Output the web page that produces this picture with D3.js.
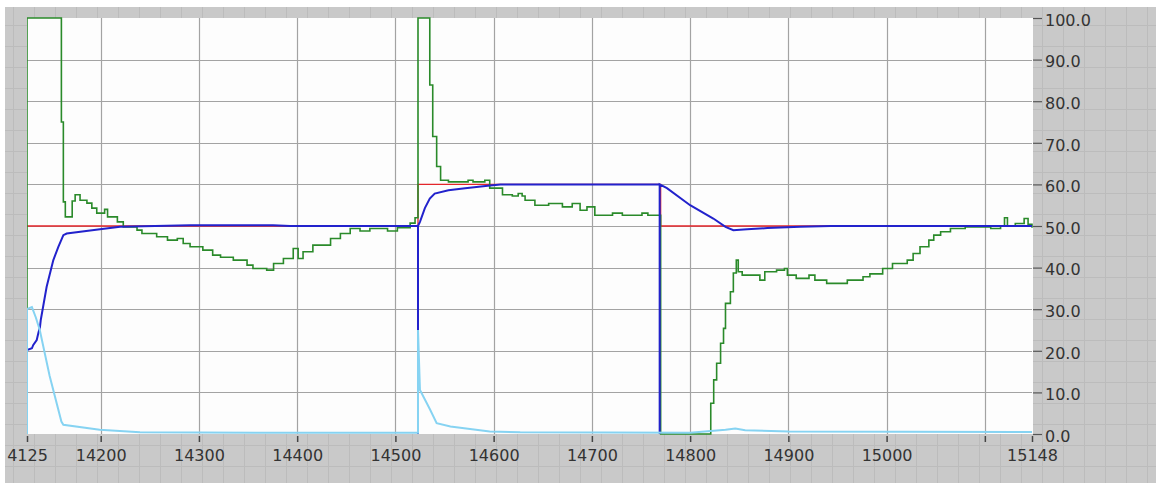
<!DOCTYPE html>
<html>
<head>
<meta charset="utf-8">
<script src="https://cdn.jsdelivr.net/npm/d3@7"></script>
<style>
  body { margin: 0; background: #ffffff; }
  svg { display: block; }
  text { font-family: "DejaVu Sans", Verdana, sans-serif; }
</style>
</head>
<body>
<svg id="chart" width="1156" height="483"></svg>
<script>
// ---- axis ticks ----
const xTickValues = [14125, 14200, 14300, 14400, 14500, 14600, 14700, 14800, 14900, 15000, 15100, 15148];
const xTickLabels = ["4125", "14200", "14300", "14400", "14500", "14600", "14700", "14800", "14900", "15000", "", "15148"];
const yTickValues = [0, 10, 20, 30, 40, 50, 60, 70, 80, 90, 100];

// ---- setpoint (stepped) ----
const spTime  = [14125, 14523, 14770, 15148];
const spValue = [50,    60,    50,    50];

// ---- controller output (stepped) ----
const outTime = [14125, 14125, 14160, 14162, 14164, 14171, 14174, 14179, 14186, 14191, 14196, 14204, 14207, 14217,
  14223, 14237, 14242, 14257, 14268, 14278, 14284, 14291, 14304, 14314, 14322, 14335, 14349, 14355, 14369, 14376,
  14386, 14396, 14401, 14406, 14416, 14434, 14444, 14454, 14464, 14474, 14492, 14502, 14515, 14520,
  14523, 14535, 14538, 14542, 14546, 14554, 14574, 14579, 14591, 14596, 14609, 14619, 14625, 14629, 14632, 14642,
  14656, 14670, 14680, 14688, 14695, 14703, 14721, 14731, 14751, 14757, 14770,
  14819, 14821, 14824, 14827, 14831, 14834, 14836, 14841, 14844, 14847, 14849, 14853, 14871, 14876, 14888, 14896,
  14899, 14908, 14921, 14927, 14939, 14960, 14976, 14983, 14996, 15006, 15021, 15027, 15034, 15043, 15048, 15055,
  15065, 15080, 15106, 15116, 15120, 15123, 15131, 15140, 15144, 15148];
const outValue = [0, 100, 75, 55.8, 52.2, 56, 57.5, 56.2, 55.5, 54.3, 53.1, 54, 52.2, 51,
  49.8, 49, 48.2, 47.4, 46.6, 47, 45.8, 45, 44.2, 43, 42.5, 41.8, 40.6, 39.8, 39.4, 41,
  42.2, 44.6, 42.2, 43.8, 45.4, 47, 48.2, 49.4, 48.8, 49.4, 48.8, 49.6, 50.7, 52,
  100, 83.9, 71.5, 64.3, 61, 60.6, 61, 60.6, 61, 59.1, 57.5, 57.2, 57.8, 57.2, 56.2, 55,
  55.4, 54.6, 55.4, 53.8, 54.6, 52.6, 53.1, 52.6, 53.1, 52.6, 0,
  0, 7.4, 13, 17, 21.8, 25.4, 31.4, 34.2, 38.7, 41.8, 39, 38.2, 37, 39, 39.4, 39.8,
  38.2, 37.4, 38.2, 37, 36.2, 37, 37.8, 38.5, 39.8, 41, 41.8, 43.4, 45, 46.6, 47.8, 48.6,
  49.4, 49.8, 49.4, 50, 52, 50, 50.6, 51.8, 50.4, 49.6];

// ---- process value ----
const pvTime = [14125, 14125, 14130, 14131.4, 14134.9, 14136.5, 14138.2, 14139, 14145, 14151.8, 14156.9, 14162,
  14165.4, 14199.3, 14219.7, 14291, 14375.5, 14392.8, 14523, 14523, 14523,
  14525, 14530, 14535, 14540, 14554, 14571, 14594, 14607, 14769, 14769, 14769,
  14776.4, 14800, 14823.6, 14836, 14844, 14858, 14878.6, 14912, 14943, 15148];
const pvValue = [0, 20.2, 20.6, 21.4, 22.6, 24.2, 25.7, 27.4, 35.4, 41.8, 45, 47.8,
  48.2, 49.2, 49.8, 50.2, 50.2, 50, 50, 0, 50,
  51, 54.3, 56.6, 57.8, 58.6, 59.1, 59.7, 60, 60, 0, 60,
  59.1, 55, 51.8, 49.8, 49, 49.2, 49.5, 49.8, 50, 50];

// ---- error magnitude ----
const errTime = [14125, 14125, 14130, 14134, 14138, 14148, 14160, 14162, 14199, 14240, 14400, 14523, 14523,
  14525, 14535, 14542, 14556, 14596, 14627, 14800, 14836, 14846, 14856, 14900, 15148];
const errValue = [0, 30, 30.5, 28, 25, 14, 3, 2.2, 1, 0.4, 0.3, 0.3, 25,
  10.6, 6, 2.6, 1.8, 0.6, 0.4, 0.3, 1, 1.3, 0.9, 0.6, 0.5];

const W = 1156, H = 483;
const plot = { left: 27, right: 1032, top: 18, bottom: 434 };

const svg = d3.select("#chart");

// panel background with its faint grid
const defs = svg.append("defs");
const pat = defs.append("pattern")
  .attr("id", "panelGrid").attr("patternUnits", "userSpaceOnUse")
  .attr("width", 21).attr("height", 21).attr("x", 13).attr("y", 4);
pat.append("rect").attr("width", 21).attr("height", 21).attr("fill", "#c9c9c9");
pat.append("path").attr("d", "M0,0.5H21M0.5,0V21").attr("stroke", "#bcbcbc").attr("stroke-width", 1);

svg.append("rect").attr("x", 0).attr("y", 0).attr("width", W).attr("height", H).attr("fill", "#ffffff");
svg.append("rect").attr("x", 5).attr("y", 7).attr("width", W - 5).attr("height", H - 7).attr("fill", "url(#panelGrid)");

defs.append("clipPath").attr("id", "plotClip")
  .append("rect").attr("x", plot.left).attr("y", plot.top - 1)
  .attr("width", plot.right - plot.left + 1).attr("height", plot.bottom - plot.top + 2);

// plotting area
svg.append("rect")
  .attr("x", plot.left).attr("y", plot.top)
  .attr("width", plot.right - plot.left + 1).attr("height", plot.bottom - plot.top)
  .attr("fill", "#fdfdfd");

const x = d3.scaleLinear().domain([14125, 15148]).range([plot.left, plot.right]);
const y = d3.scaleLinear().domain([0, 100]).range([plot.bottom, plot.top]);

// grid lines
const grid = svg.append("g").attr("stroke", "#a3a3a3").attr("stroke-width", 1.2);
grid.selectAll("line.v").data(xTickValues.filter(v => v > 14125 && v < 15148)).join("line")
  .attr("class", "v")
  .attr("x1", d => Math.round(x(d)) + 0.5).attr("x2", d => Math.round(x(d)) + 0.5)
  .attr("y1", plot.top).attr("y2", plot.bottom);
grid.selectAll("line.h").data(yTickValues.filter(v => v > 0 && v < 100)).join("line")
  .attr("class", "h")
  .attr("y1", d => Math.round(y(d)) + 0.5).attr("y2", d => Math.round(y(d)) + 0.5)
  .attr("x1", plot.left).attr("x2", plot.right);

// axes
const xAxis = d3.axisBottom(x)
  .tickValues(xTickValues)
  .tickFormat((d, i) => xTickLabels[i])
  .tickSize(6).tickPadding(8);
const gx = svg.append("g").attr("transform", `translate(0,${plot.bottom + 2})`).call(xAxis);
gx.select(".domain").remove();
gx.selectAll(".tick line").attr("stroke", "#444").attr("stroke-width", 1.5);
gx.selectAll(".tick text").attr("fill", "#333").style("font-size", "16px");

const yAxis = d3.axisRight(y)
  .tickValues(yTickValues)
  .tickFormat(d3.format(".1f"))
  .tickSize(9).tickPadding(3);
const gy = svg.append("g").attr("transform", `translate(${plot.right + 1},0)`).call(yAxis);
gy.select(".domain").remove();
gy.selectAll(".tick line").attr("stroke", "#555").attr("stroke-width", 1.2);
gy.selectAll(".tick text").attr("fill", "#333").attr("dy", "0.45em").style("font-size", "16px");

// series
const series = svg.append("g").attr("clip-path", "url(#plotClip)").attr("fill", "none");

const stepLine = d3.line().x(d => x(d[0])).y(d => y(d[1])).curve(d3.curveStepAfter);
const straightLine = d3.line().x(d => x(d[0])).y(d => y(d[1]));

series.append("path")
  .attr("d", stepLine(d3.zip(spTime, spValue)))
  .attr("stroke", "#e3262b").attr("stroke-width", 1.3);

series.append("path")
  .attr("d", stepLine(d3.zip(outTime, outValue)))
  .attr("stroke", "#2a8a2a").attr("stroke-width", 1.6);

series.append("path")
  .attr("d", straightLine(d3.zip(pvTime, pvValue)))
  .attr("stroke", "#2222cc").attr("stroke-width", 2);

series.append("path")
  .attr("d", straightLine(d3.zip(errTime, errValue)))
  .attr("stroke", "#86d3f2").attr("stroke-width", 2);
</script>
</body>
</html>
